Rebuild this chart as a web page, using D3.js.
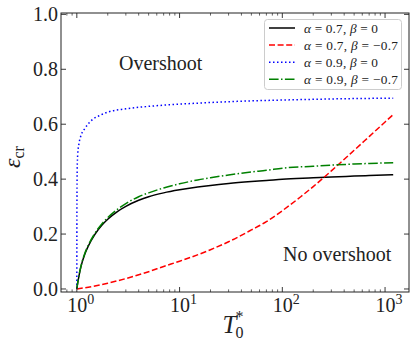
<!DOCTYPE html>
<html>
<head>
<meta charset="utf-8">
<script src="https://cdn.jsdelivr.net/npm/d3@7"></script>
<style>
  body { margin: 0; background: #fff; }
  svg { display: block; font-family: "Liberation Serif", "DejaVu Serif", serif; }
</style>
</head>
<body>
<svg id="chart" width="416" height="349"></svg>
<script>
// curve data (T0* on a log axis, eps_cr)
var tBlack = [1, 1.02, 1.05, 1.1, 1.2, 1.3, 1.5, 1.75, 2, 2.5, 3, 4, 5, 7, 10, 15, 20, 30, 50, 70, 100, 200, 300, 500, 700, 1200];
var epsBlack = [0, 0.022, 0.048, 0.083, 0.128, 0.158, 0.199, 0.232, 0.254, 0.283, 0.301, 0.323, 0.336, 0.350, 0.361, 0.371, 0.377, 0.384, 0.391, 0.395, 0.400, 0.405, 0.408, 0.411, 0.413, 0.416];

var tRed = [1, 1.5, 2, 3, 5, 7, 10, 20, 30, 50, 70, 100, 150, 200, 300, 500, 700, 1000, 1200];
var epsRed = [0, 0.011, 0.021, 0.038, 0.063, 0.082, 0.101, 0.143, 0.172, 0.215, 0.245, 0.285, 0.335, 0.373, 0.430, 0.505, 0.555, 0.608, 0.635];

var tBlue = [1, 1.001, 1.003, 1.008, 1.02, 1.05, 1.1, 1.2, 1.4, 1.7, 2, 3, 5, 10, 20, 50, 100, 300, 1200];
var epsBlue = [0, 0.2, 0.33, 0.43, 0.49, 0.53, 0.56, 0.585, 0.615, 0.633, 0.644, 0.656, 0.665, 0.673, 0.679, 0.685, 0.688, 0.692, 0.695];

var tGreen = tBlack;
var epsGreen = [0, 0.023, 0.050, 0.085, 0.131, 0.161, 0.203, 0.237, 0.260, 0.291, 0.311, 0.336, 0.350, 0.368, 0.383, 0.397, 0.405, 0.415, 0.426, 0.432, 0.440, 0.447, 0.451, 0.455, 0.457, 0.460];

var seriesNames = ["α = 0.7, β = 0", "α = 0.7, β = −0.7", "α = 0.9, β = 0", "α = 0.9, β = −0.7"];

var xMajor = [1, 10, 100, 1000];
var xMajorExp = ["0", "1", "2", "3"];
var yTicks = [0, 0.2, 0.4, 0.6, 0.8, 1.0];

var series = [
    {t: tBlack, e: epsBlack, color: "#000000", dash: null},
    {t: tRed, e: epsRed, color: "#ff0000", dash: "6,2.6"},
    {t: tBlue, e: epsBlue, color: "#0000ff", dash: "1.5,2.5"},
    {t: tGreen, e: epsGreen, color: "#008000", dash: "9.6,2.4,1.5,2.4"}
];

var svg = d3.select("#chart");
var plotL = 61, plotR = 409, plotT = 13, plotB = 292;
var ink = "#222";

var x = d3.scaleLog()
    .domain([Math.pow(10, -0.154), Math.pow(10, 3.233)])
    .range([plotL, plotR]);

var y = d3.scaleLinear()
    .domain([-0.011, 1.005])
    .range([plotB, plotT]);

// curves
var line = d3.line()
    .x(function(d){ return x(d[0]); })
    .y(function(d){ return y(d[1]); })
    .curve(d3.curveMonotoneX);

svg.append("g")
    .selectAll("path")
    .data(series)
    .enter()
    .append("path")
    .attr("d", function(s){ return line(s.t.map(function(t, i){ return [t, s.e[i]]; })); })
    .attr("fill", "none")
    .attr("stroke", function(s){ return s.color; })
    .attr("stroke-width", 1.5)
    .attr("stroke-dasharray", function(s){ return s.dash; });

// ticks, all inward, on all four sides
var minor = x.ticks().filter(function(t){ return xMajor.indexOf(t) < 0; });

function drawXTicks(yPos, dir) {
    var g = svg.append("g");
    g.selectAll(".maj").data(xMajor).enter().append("line")
        .attr("x1", function(d){ return x(d); }).attr("x2", function(d){ return x(d); })
        .attr("y1", yPos).attr("y2", yPos + dir * 5)
        .attr("stroke", ink).attr("stroke-width", 0.9);
    g.selectAll(".min").data(minor).enter().append("line")
        .attr("x1", function(d){ return x(d); }).attr("x2", function(d){ return x(d); })
        .attr("y1", yPos).attr("y2", yPos + dir * 2.6)
        .attr("stroke", ink).attr("stroke-width", 0.7);
}
drawXTicks(plotB, -1);
drawXTicks(plotT, 1);

[plotL, plotR].forEach(function(xPos){
    svg.append("g").selectAll("line").data(yTicks).enter().append("line")
        .attr("x1", xPos).attr("x2", xPos + (xPos == plotL ? 5 : -5))
        .attr("y1", function(d){ return y(d); }).attr("y2", function(d){ return y(d); })
        .attr("stroke", ink).attr("stroke-width", 0.9);
});

// frame
svg.append("rect")
    .attr("x", plotL).attr("y", plotT)
    .attr("width", plotR - plotL).attr("height", plotB - plotT)
    .attr("fill", "none").attr("stroke", ink).attr("stroke-width", 1);

// y tick labels
svg.append("g").selectAll("text").data(yTicks).enter().append("text")
    .attr("x", plotL - 3)
    .attr("y", function(d){ return y(d) + 6.8; })
    .attr("text-anchor", "end")
    .attr("font-size", 20)
    .attr("fill", ink)
    .text(function(d){ return d.toFixed(1); });

// x tick labels 10^n
var xl = svg.append("g").selectAll("text").data(xMajor).enter().append("text")
    .attr("x", function(d){ return x(d) + 4; })
    .attr("y", 312)
    .attr("text-anchor", "middle")
    .attr("font-size", 20)
    .attr("fill", ink);
xl.append("tspan").text("10");
xl.append("tspan")
    .attr("font-size", 14)
    .attr("dy", -8)
    .text(function(d, i){ return xMajorExp[i]; });

// axis labels
var xlab = svg.append("text")
    .attr("x", 233).attr("y", 333)
    .attr("text-anchor", "middle")
    .attr("font-size", 25)
    .attr("fill", ink);
xlab.append("tspan").attr("font-style", "italic").text("T");
xlab.append("tspan").attr("font-size", 16).attr("dy", 5).attr("dx", -1).text("0");
xlab.append("tspan").attr("font-size", 16).attr("dy", -16).attr("dx", -8).text("*");

var ylab = svg.append("text")
    .attr("transform", "translate(20,157) rotate(-90)")
    .attr("text-anchor", "middle")
    .attr("font-size", 24)
    .attr("fill", ink);
ylab.append("tspan").attr("font-style", "italic").text("ε");
ylab.append("tspan").attr("font-size", 16).attr("dy", 4).text("cr");

// annotations
svg.append("text")
    .attr("x", 119).attr("y", 70)
    .attr("font-size", 20)
    .attr("fill", ink)
    .text("Overshoot");
svg.append("text")
    .attr("x", 283).attr("y", 261)
    .attr("font-size", 20)
    .attr("fill", ink)
    .text("No overshoot");

// legend
var legend = svg.append("g");
legend.append("rect")
    .attr("x", 264.5).attr("y", 19.5)
    .attr("width", 137).attr("height", 70)
    .attr("rx", 3)
    .attr("fill", "#fff").attr("fill-opacity", 0.8)
    .attr("stroke", "#cccccc").attr("stroke-width", 1);

var rows = legend.selectAll(".row").data(series).enter().append("g")
    .attr("transform", function(d, i){ return "translate(0," + (28 + i * 17.1) + ")"; });
rows.append("line")
    .attr("x1", 269).attr("x2", 295)
    .attr("y1", 0).attr("y2", 0)
    .attr("stroke", function(s){ return s.color; })
    .attr("stroke-width", 1.5)
    .attr("stroke-dasharray", function(s){ return s.dash; });
rows.append("text")
    .attr("x", 304).attr("y", 4.5)
    .attr("font-size", 13.3)
    .attr("fill", ink)
    .attr("textLength", function(s, i){ return i % 2 ? 94 : 74; })
    .attr("lengthAdjust", "spacing")
    .each(function(s, i){
        var parts = seriesNames[i].split(/([αβ])/);
        var t = d3.select(this);
        parts.forEach(function(p){
            if (p == "") return;
            t.append("tspan")
                .attr("font-style", (p == "α" || p == "β") ? "italic" : null)
                .text(p);
        });
    });
</script>
</body>
</html>
